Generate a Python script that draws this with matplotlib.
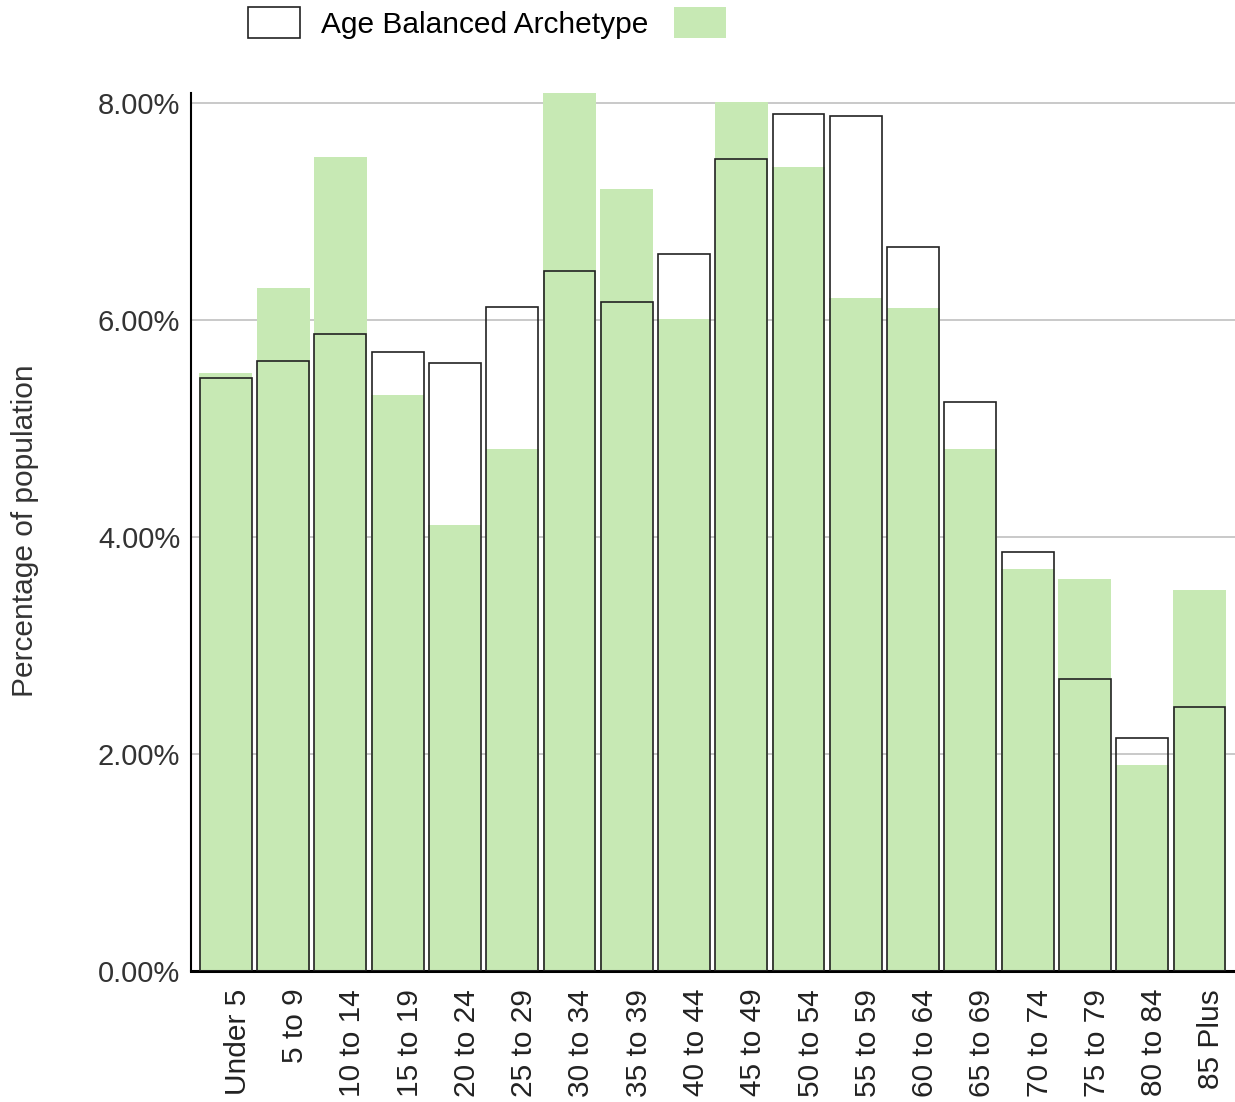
import numpy as np
import matplotlib.pyplot as plt
import matplotlib.transforms as mtransforms

plt.rcParams['font.family'] = ['Liberation Sans', 'DejaVu Sans']

age_groups = ['Under 5', '5 to 9', '10 to 14', '15 to 19', '20 to 24', '25 to 29',
              '30 to 34', '35 to 39', '40 to 44', '45 to 49', '50 to 54', '55 to 59',
              '60 to 64', '65 to 69', '70 to 74', '75 to 79', '80 to 84', '85 Plus']
# green bars (area population, %)
area_pct = [5.51, 6.30, 7.51, 5.31, 4.11, 4.81, 8.10, 7.21, 6.01, 8.01,
            7.41, 6.21, 6.11, 4.81, 3.71, 3.61, 1.90, 3.51]
# outlined bars (Age Balanced Archetype, %)
archetype_pct = [5.47, 5.62, 5.87, 5.71, 5.61, 6.12, 6.45, 6.17, 6.61, 7.49,
                 7.90, 7.88, 6.68, 5.25, 3.86, 2.69, 2.15, 2.43]
y_ticks = [0, 2, 4, 6, 8]

fig = plt.figure(figsize=(12.35, 11.02), dpi=100)
ax = fig.add_axes([0.155, 0.119, 0.845, 0.797])

x = np.arange(len(age_groups))
w = 0.925
green = ax.bar(x, area_pct, width=w, color='#c7e9b4', zorder=2)
outline = ax.bar(x, archetype_pct, width=w - 0.02, facecolor='none',
                 edgecolor='#222222', linewidth=1.2, zorder=3)

ax.set_xlim(-0.60, 17.62)
ax.set_ylim(0, 8.10)
ax.set_yticks(y_ticks)
ax.set_yticklabels(['%.2f%%' % v for v in y_ticks], fontsize=21, color='#333333')
ax.yaxis.grid(True, color='#bbbbbb', linewidth=1.1, zorder=0)
ax.set_axisbelow(True)

# x labels drawn as text so they can sit a little right of the bar centre
ax.set_xticks(x)
ax.set_xticklabels([])
shift = mtransforms.ScaledTranslation(12 / 100, -18 / 100, fig.dpi_scale_trans)
for xi, lab in zip(x, age_groups):
    ax.text(xi, 0, lab, rotation=90, fontsize=21.5, color='#222222',
            ha='center', va='top', transform=ax.get_xaxis_transform() + shift)
ax.tick_params(axis='both', length=0)
ax.tick_params(axis='y', pad=8)

for s in ['top', 'right']:
    ax.spines[s].set_visible(False)
ax.spines['left'].set_linewidth(1.5)
ax.spines['bottom'].set_linewidth(2.2)

fig.text(0.02, 0.518, 'Percentage of population', rotation=90, fontsize=21.5,
         color='#333333', ha='center', va='center')

fig.legend([outline[0], green[0]], ['Age Balanced Archetype', ''],
           loc='center', bbox_to_anchor=(0.403, 0.979), ncol=2, frameon=False,
           fontsize=21.5, handlelength=1.75, handleheight=1.2,
           handletextpad=0.7, columnspacing=0.85)

plt.savefig('out.png', dpi=100)
